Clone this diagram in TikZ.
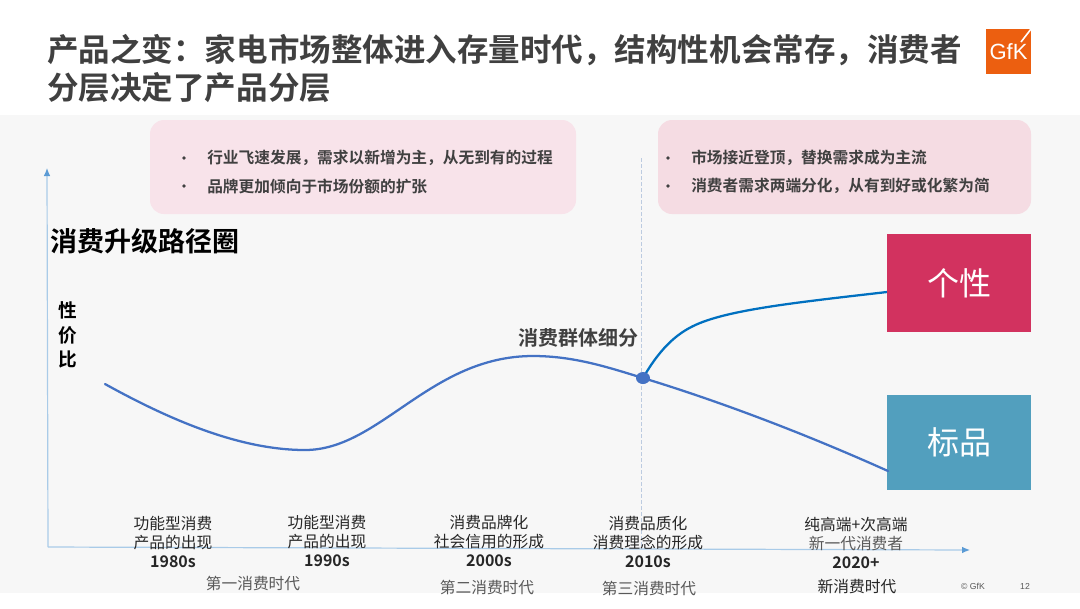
\documentclass[tikz,border=0pt]{standalone}
\usepackage{fontspec}
\setmainfont{Noto Sans CJK SC}[BoldFont={Noto Sans CJK SC Bold}]
\newfontfamily\logofont{Liberation Sans}
\usetikzlibrary{arrows.meta}
\definecolor{panelgray}{HTML}{F7F7F7}
\definecolor{titlegray}{HTML}{404040}
\definecolor{labelgray}{HTML}{595959}
\definecolor{textdark}{HTML}{262626}
\definecolor{pinkA}{HTML}{F8E3EA}
\definecolor{pinkB}{HTML}{F5DCE3}
\definecolor{redbox}{HTML}{D2325F}
\definecolor{tealbox}{HTML}{529FBE}
\definecolor{axisblue}{HTML}{A9CBE8}
\definecolor{tipblue}{HTML}{5B9BD5}
\definecolor{curveblue}{HTML}{4472C4}
\definecolor{branchblue}{HTML}{0070C0}
\definecolor{dashblue}{HTML}{BCCBE0}
\definecolor{gfkorange}{HTML}{EC5F10}
\tikzset{
  titletext/.style={anchor=west,inner sep=0pt,text=titlegray,font=\fontsize{23.65}{28}\selectfont\bfseries},
  bullettext/.style={anchor=west,inner sep=0pt,text=titlegray,font=\fontsize{11.78}{14}\selectfont\bfseries},
  bulletdot/.style={circle,fill=titlegray,inner sep=0pt,minimum size=2.8pt},
  pinkbox/.style={rounded corners=10.5pt},
  colorbox/.style={text=white,inner sep=0pt,font=\fontsize{24}{28}\selectfont},
  period/.style={align=center,inner sep=0pt,text=textdark,font=\fontsize{11.8}{14.2}\selectfont},
  era/.style={inner sep=0pt,text=labelgray,font=\fontsize{11.8}{14}\selectfont},
  axisline/.style={axisblue,line width=0.9pt,-{Latex[length=6pt,width=5pt,color=tipblue]}},
  curve/.style={curveblue,line width=1.7pt},
}
\begin{document}
\begin{tikzpicture}[x=0.75pt,y=-0.75pt]
\useasboundingbox (0,0) rectangle (1080,608);
\fill[white] (0,0) rectangle (1080,608);
\fill[panelgray] (0,115) rectangle (1080,593);

% title
\node[titletext] (title1) at (47,50) {产品之变：家电市场整体进入存量时代，结构性机会常存，消费者};
\node[titletext] (title2) at (47,88) {分层决定了产品分层};

% logo
\fill[gfkorange] (986,29) rectangle (1031,74);
\node[inner sep=0pt,text=white,font=\fontsize{16.5}{17}\selectfont\logofont] (logo) at (1008.5,52) {GfK};
\draw[white,line width=1.2pt] (1031,29) -- (1021,42);

% pink boxes
\fill[pinkA,pinkbox] (150,120) rectangle (576,214);
\fill[pinkB,pinkbox] (658,120) rectangle (1031,214);
\node[bulletdot] (b1) at (184,158) {};
\node[bulletdot] (b2) at (184,186) {};
\node[bullettext] (t1) at (207,158) {行业飞速发展，需求以新增为主，从无到有的过程};
\node[bullettext] (t2) at (207,186) {品牌更加倾向于市场份额的扩张};
\node[bulletdot] (b3) at (668,158) {};
\node[bulletdot] (b4) at (668,186) {};
\node[bullettext] (t3) at (691,158) {市场接近登顶，替换需求成为主流};
\node[bullettext] (t4) at (691,186) {消费者需求两端分化，从有到好或化繁为简};

% axes
\coordinate (origin) at (48,547);
\coordinate (ytop) at (47,168);
\coordinate (xend) at (970,550);
\draw[axisline] (origin) -- (ytop);
\draw[axisline] (origin) -- (xend);

% dashed divider
\coordinate (dtop) at (641.5,158);
\coordinate (dbot) at (641.5,547);
\draw[dashblue,line width=0.6pt,dashed,dash pattern=on 3pt off 1.5pt] (dtop) -- (dbot);

% labels
\node[inner sep=0pt,anchor=west,text=black,font=\fontsize{20.25}{24}\selectfont\bfseries] (lbl) at (50,241) {消费升级路径圈};
\node[inner sep=0pt,align=center,text=black,font=\fontsize{14}{18.4}\selectfont\bfseries] (yl) at (67.5,335) {性\\价\\比};
\node[inner sep=0pt,text=titlegray,font=\fontsize{15}{18}\selectfont\bfseries] (split) at (578,338) {消费群体细分};

% colored boxes
\node[colorbox,fill=redbox,minimum width=108pt,minimum height=73.5pt] (ge) at (959,283) {个性};
\node[colorbox,fill=tealbox,minimum width=108pt,minimum height=71.5pt] (biao) at (959,442.5) {标品};

% curves
\coordinate (c0) at (105,384);
\coordinate (c1) at (305,450);
\coordinate (c2) at (533,356);
\node[circle,inner sep=0pt] (hub) at (643,378) {};
\coordinate (c4) at (888,471);
\coordinate (b1m) at (700,323);
\coordinate (b2e) at (887,292);
\draw[curve,line cap=round] (c0) .. controls (170,420) and (240,450) .. (c1)
  .. controls (380,450) and (430,356) .. (c2)
  .. controls (575,356) and (610,368) .. (hub.center)
  .. controls (725,403) and (810,436) .. (c4);
\draw[branchblue,line width=1.7pt] (hub.center) .. controls (662,345) and (680,331) .. (b1m)
  .. controls (735,309) and (800,302) .. (b2e);
\fill[curveblue] (hub.center) ellipse (7 and 6);

% period labels
\node[period] (p1) at (173,542) {功能型消费\\产品的出现\\{\bfseries\fontsize{12}{14.2}\selectfont 1980s}};
\node[period] (p2) at (327,541) {功能型消费\\产品的出现\\{\bfseries\fontsize{12}{14.2}\selectfont 1990s}};
\node[period] (p3) at (489,541) {消费品牌化\\社会信用的形成\\{\bfseries\fontsize{12}{14.2}\selectfont 2000s}};
\node[period] (p4) at (648,542) {消费品质化\\消费理念的形成\\{\bfseries\fontsize{12}{14.2}\selectfont 2010s}};
\node[period] (p5) at (856,543) {纯高端+次高端\\{\color{labelgray}新一代消费者}\\{\bfseries\fontsize{12}{14.2}\selectfont 2020+}};

\node[era] (e1) at (253,583) {第一消费时代};
\node[era] (e2) at (487,587) {第二消费时代};
\node[era] (e3) at (649,588) {第三消费时代};
\node[era,text=textdark] (e4) at (857,586) {新消费时代};

% footer
\node[inner sep=0pt,text=labelgray,font=\fontsize{6.5}{8}\selectfont\logofont] (fc) at (973,586) {© GfK};
\node[inner sep=0pt,text=labelgray,font=\fontsize{6.5}{8}\selectfont\logofont] (fn) at (1025,586) {12};
\end{tikzpicture}
\end{document}
